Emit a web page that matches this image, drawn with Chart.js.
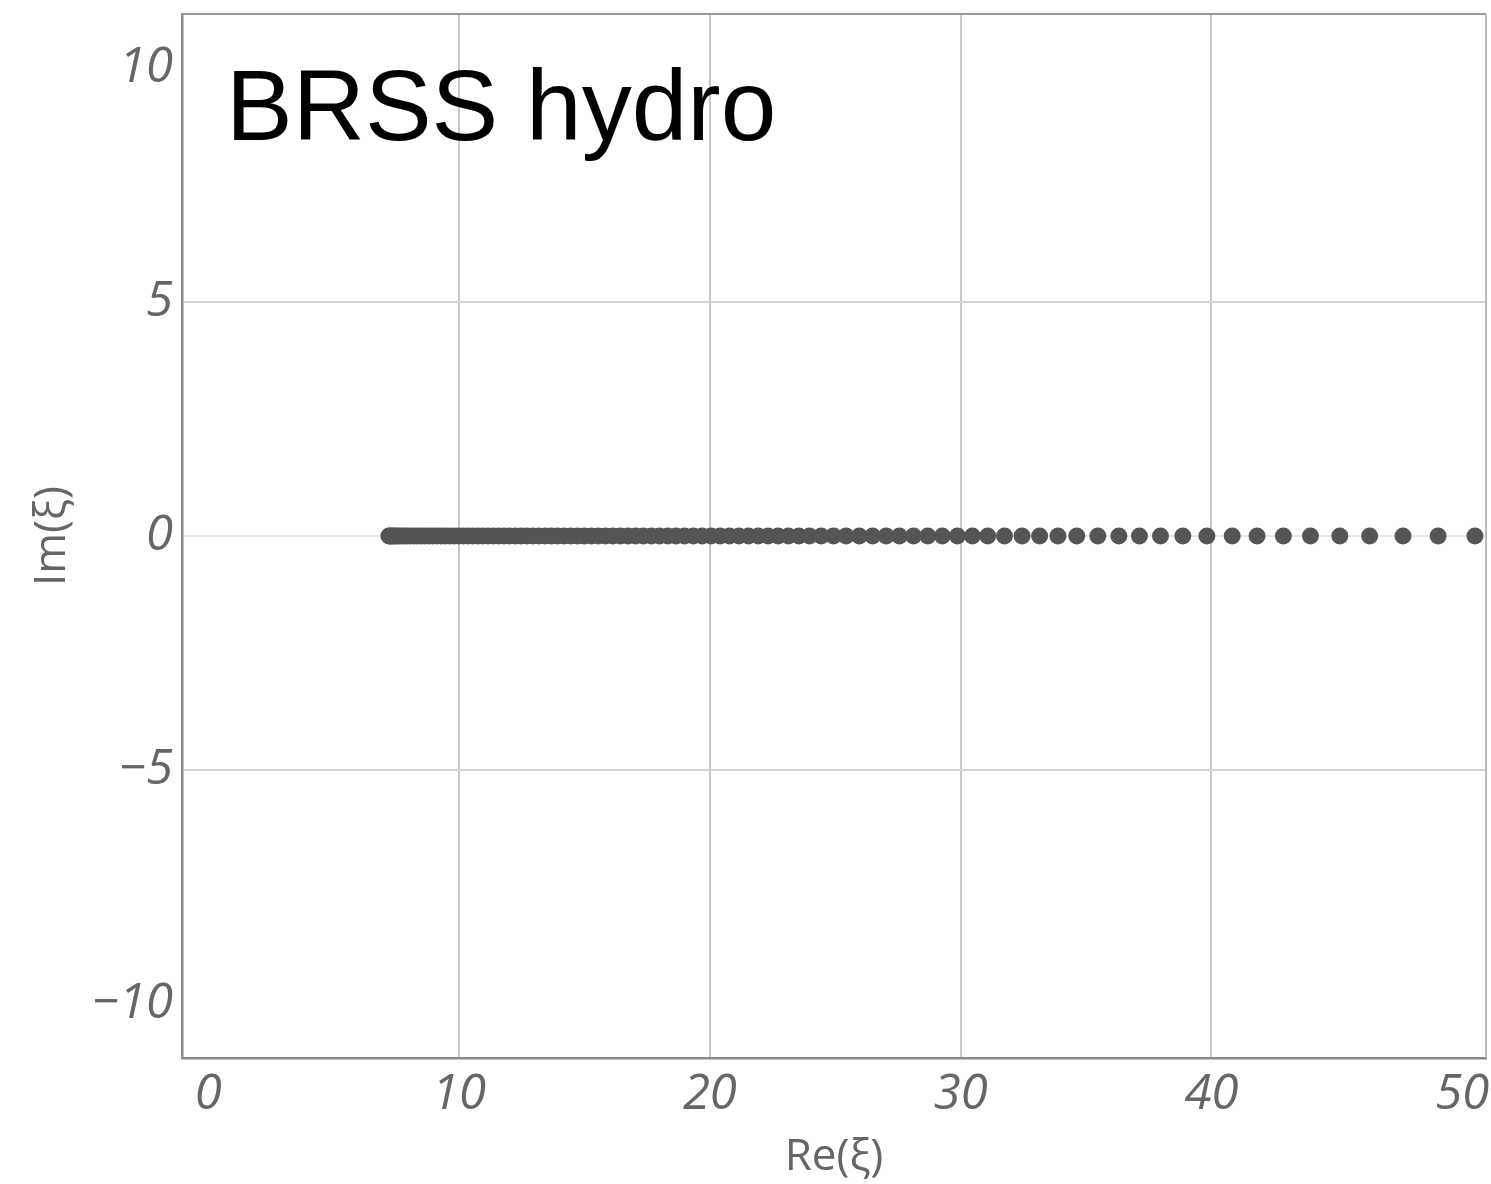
<!DOCTYPE html>
<html>
<head>
<meta charset="utf-8">
<script src="https://cdn.jsdelivr.net/npm/chart.js@4.4.0/dist/chart.umd.min.js"></script>
<style>
html, body { margin: 0; padding: 0; background: #fff; }
#wrap { width: 1491px; height: 1184px; }
</style>
</head>
<body>
<div id="wrap"><canvas id="polos" width="1491" height="1184"></canvas></div>
<script>
let reXi = [
    7.20, 7.24, 7.29, 7.35, 7.42, 7.50, 7.59, 7.69, 7.80, 7.92,
    8.05, 8.19, 8.33, 8.48, 8.63, 8.79, 8.95, 9.11, 9.28, 9.45,
    9.62, 9.80, 9.98, 10.17, 10.36, 10.55, 10.75, 10.95, 11.15, 11.36,
    11.57, 11.79, 12.01, 12.24, 12.47, 12.70, 12.94, 13.18, 13.43, 13.68,
    13.93, 14.19, 14.45, 14.72, 14.99, 15.27, 15.55, 15.84, 16.13, 16.43,
    16.73, 17.04, 17.35, 17.67, 17.99, 18.32, 18.65, 18.99, 19.34, 19.69,
    20.05, 20.41, 20.78, 21.16, 21.54, 21.93, 22.32, 22.72, 23.13, 23.55,
    23.97, 24.44, 24.93, 25.43, 25.96, 26.49, 27.03, 27.56, 28.12, 28.69,
    29.27, 29.87, 30.47, 31.08, 31.75, 32.45, 33.15, 33.88, 34.63, 35.47,
    36.31, 37.13, 37.97, 38.86, 39.82, 40.83, 41.82, 42.87, 43.95, 45.12,
    46.31, 47.64, 49.04, 50.51
];
let imXi = 0;

let xTicks = [0, 10, 20, 30, 40, 50];
let yTicks = [-10, -5, 0, 5, 10];
let xGrid = [10, 20, 30, 40];
let yGrid = [-5, 5];

let puntos = [];
reXi.forEach(re => {
    puntos.push({x: re, y: imXi});
});

// marco superior y derecho + rotulo
let marco = {
    id: 'marco',
    beforeDatasetsDraw(chart) {
        let a = chart.chartArea;
        let ctx = chart.ctx;
        ctx.save();
        ctx.lineWidth = 2;
        ctx.strokeStyle = '#9a9a9a';
        ctx.beginPath();
        ctx.moveTo(a.left, a.top);
        ctx.lineTo(a.right, a.top);
        ctx.stroke();
        ctx.strokeStyle = '#b8b8b8';
        ctx.beginPath();
        ctx.moveTo(a.right, a.top);
        ctx.lineTo(a.right, a.bottom);
        ctx.stroke();
        ctx.restore();
    },
    afterDraw(chart) {
        let ctx = chart.ctx;
        ctx.save();
        ctx.font = '100px "Liberation Sans"';
        ctx.fillStyle = '#000';
        ctx.textBaseline = 'alphabetic';
        ctx.fillText('BRSS hydro', 226, 140);
        ctx.restore();
    }
};

let ctx = document.getElementById('polos');
new Chart(ctx, {
    type: 'scatter',
    data: {
        datasets: [{
            label: 'polos',
            data: puntos,
            backgroundColor: '#555555',
            borderWidth: 0,
            pointRadius: 8.5
        }]
    },
    options: {
        responsive: false,
        animation: false,
        devicePixelRatio: 1,
        layout: { autoPadding: false, padding: { top: 14, right: 5, left: 0, bottom: 0 } },
        plugins: {
            legend: { display: false },
            tooltip: { enabled: false }
        },
        scales: {
            x: {
                type: 'linear',
                min: -1.05,
                max: 50.95,
                afterBuildTicks: s => { s.ticks = xTicks.map(v => ({value: v})); },
                afterFit: s => {
                    s.height = 126;
                    s.paddingLeft = 0;
                    s.paddingRight = 0;
                },
                grid: {
                    color: c => xGrid.includes(c.tick.value) ? '#c8c8c8' : 'rgba(0,0,0,0)',
                    lineWidth: 2,
                    drawTicks: false
                },
                border: { color: '#888888', width: 2.5 },
                ticks: {
                    color: '#666666',
                    padding: 8,
                    maxRotation: 0,
                    autoSkip: false,
                    font: { family: '"Open Sans"', size: 49, style: 'italic' }
                },
                title: {
                    display: true,
                    text: 'Re(ξ)',
                    color: '#666666',
                    padding: { top: 0, bottom: 0 },
                    font: { family: '"Open Sans"', size: 44, lineHeight: 1.2 }
                }
            },
            y: {
                type: 'linear',
                min: -11.15,
                max: 11.15,
                afterBuildTicks: s => { s.ticks = yTicks.map(v => ({value: v})); },
                afterFit: s => {
                    s.width = 182;
                    s.paddingTop = 0;
                    s.paddingBottom = 0;
                },
                grid: {
                    color: c => yGrid.includes(c.tick.value) ? '#d2d2d2' : (c.tick.value === 0 ? '#e6e6e6' : 'rgba(0,0,0,0)'),
                    lineWidth: 2,
                    drawTicks: false
                },
                border: { color: '#888888', width: 2.5 },
                ticks: {
                    color: '#666666',
                    padding: 9,
                    autoSkip: false,
                    font: { family: '"Open Sans"', size: 49, style: 'italic' },
                    callback: v => v < 0 ? '\u2212' + Math.abs(v) : String(v)
                },
                title: {
                    display: true,
                    text: 'Im(ξ)',
                    color: '#666666',
                    padding: { top: 26, bottom: 0 },
                    font: { family: '"Open Sans"', size: 44, lineHeight: 1.2 }
                }
            }
        }
    },
    plugins: [marco]
});
</script>
</body>
</html>
